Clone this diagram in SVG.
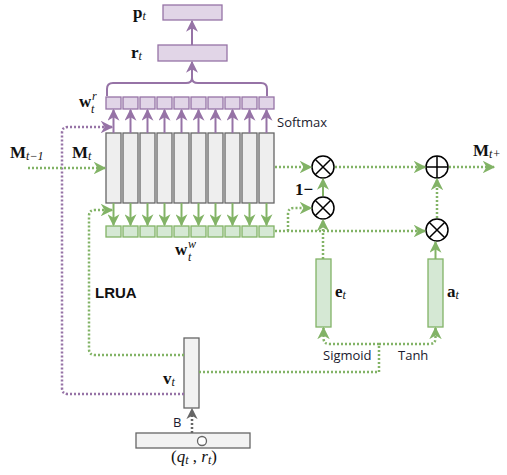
<svg xmlns="http://www.w3.org/2000/svg" width="507" height="475" viewBox="0 0 507 475">
<style>
.mem{fill:#eeeeee;stroke:#666666;stroke-width:1.3}
.rb{fill:#e1d5e7;stroke:#9673a6;stroke-width:1.3}
.wb{fill:#d5e8d4;stroke:#82b366;stroke-width:1.3}
.gray{fill:#f2f2f2;stroke:#666666;stroke-width:1.3}
.op{fill:#ffffff;stroke:#000000;stroke-width:1.5}
.pa{fill:none;stroke:#9673a6;stroke-width:2}
.ga{fill:none;stroke:#82b366;stroke-width:2}
.pd{fill:none;stroke:#9673a6;stroke-width:2.5;stroke-dasharray:2 2}
.gd{fill:none;stroke:#82b366;stroke-width:2.5;stroke-dasharray:2 2}
.kd{fill:none;stroke:#666666;stroke-width:2.5;stroke-dasharray:2 2}
.m{font-family:"Liberation Serif","DejaVu Serif",serif;font-weight:bold;font-size:17px;fill:#111}
.s{font-family:"Liberation Serif","DejaVu Serif",serif;font-style:italic;font-weight:normal;font-size:12px;fill:#111}
.t{font-family:"Open Sans","DejaVu Sans",sans-serif;font-size:13px;fill:#1a1a2e}
</style>
<defs>
<marker id="ap" viewBox="0 0 10 10" refX="9" refY="5" markerWidth="6" markerHeight="6" orient="auto" markerUnits="strokeWidth"><path d="M0,0 L10,5 L0,10 L3,5 z" fill="#9673a6"/></marker>
<marker id="ag" viewBox="0 0 10 10" refX="9" refY="5" markerWidth="6" markerHeight="6" orient="auto" markerUnits="strokeWidth"><path d="M0,0 L10,5 L0,10 L3,5 z" fill="#82b366"/></marker>
<marker id="agd" viewBox="0 0 10 10" refX="9" refY="5" markerWidth="5" markerHeight="5" orient="auto" markerUnits="strokeWidth"><path d="M0,0 L10,5 L0,10 L3,5 z" fill="#82b366"/></marker>
<marker id="apd" viewBox="0 0 10 10" refX="9" refY="5" markerWidth="5" markerHeight="5" orient="auto" markerUnits="strokeWidth"><path d="M0,0 L10,5 L0,10 L3,5 z" fill="#9673a6"/></marker>
<marker id="ak" viewBox="0 0 10 10" refX="9" refY="5" markerWidth="4.5" markerHeight="4.5" orient="auto" markerUnits="strokeWidth"><path d="M0,0 L10,5 L0,10 L3,5 z" fill="#666666"/></marker>
</defs>

<g id="p_t"><rect class="rb" x="163" y="5" width="59" height="15"/><text class="m" x="133" y="18">p<tspan class="s" dy="2">t</tspan></text></g>
<g id="r_t"><rect class="rb" x="158" y="45" width="69" height="16"/><text class="m" x="131" y="58">r<tspan class="s" dy="2">t</tspan></text></g>

<g id="w_r">
<rect class="rb" x="106" y="97" width="15" height="12"/><rect class="rb" x="123" y="97" width="15" height="12"/><rect class="rb" x="140" y="97" width="15" height="12"/><rect class="rb" x="157" y="97" width="15" height="12"/><rect class="rb" x="174" y="97" width="15" height="12"/><rect class="rb" x="191" y="97" width="15" height="12"/><rect class="rb" x="208" y="97" width="15" height="12"/><rect class="rb" x="225" y="97" width="15" height="12"/><rect class="rb" x="242" y="97" width="15" height="12"/><rect class="rb" x="259" y="97" width="15" height="12"/>
<text class="m" x="79" y="107">w</text><text class="s" x="92" y="100">r</text><text class="s" x="91" y="113">t</text>
<text class="t" x="277" y="127">Softmax</text>
</g>

<g id="memory">
<rect class="mem" x="106" y="133" width="15" height="70"/><rect class="mem" x="123" y="133" width="15" height="70"/><rect class="mem" x="140" y="133" width="15" height="70"/><rect class="mem" x="157" y="133" width="15" height="70"/><rect class="mem" x="174" y="133" width="15" height="70"/><rect class="mem" x="191" y="133" width="15" height="70"/><rect class="mem" x="208" y="133" width="15" height="70"/><rect class="mem" x="225" y="133" width="15" height="70"/><rect class="mem" x="242" y="133" width="15" height="70"/><rect class="mem" x="259" y="133" width="15" height="70"/>
<text class="m" x="10" y="158">M<tspan class="s" dy="2">t−1</tspan></text>
<text class="m" x="72" y="158">M<tspan class="s" dy="2">t</tspan></text>
</g>

<g id="w_w">
<rect class="wb" x="106" y="226" width="15" height="11"/><rect class="wb" x="123" y="226" width="15" height="11"/><rect class="wb" x="140" y="226" width="15" height="11"/><rect class="wb" x="157" y="226" width="15" height="11"/><rect class="wb" x="174" y="226" width="15" height="11"/><rect class="wb" x="191" y="226" width="15" height="11"/><rect class="wb" x="208" y="226" width="15" height="11"/><rect class="wb" x="225" y="226" width="15" height="11"/><rect class="wb" x="242" y="226" width="15" height="11"/><rect class="wb" x="259" y="226" width="15" height="11"/>
<text class="m" x="175" y="255">w</text><text class="s" x="188" y="248">w</text><text class="s" x="188" y="261">t</text>
</g>

<g id="mul1"><circle class="op" cx="323" cy="167" r="11"/><path d="M315.2,159.2 L330.8,174.8 M330.8,159.2 L315.2,174.8" stroke="#000" stroke-width="1.5"/></g>
<g id="mul2"><circle class="op" cx="323" cy="208" r="11"/><path d="M315.2,200.2 L330.8,215.8 M330.8,200.2 L315.2,215.8" stroke="#000" stroke-width="1.5"/><text class="m" x="295" y="195">1−</text></g>
<g id="add"><circle class="op" cx="437" cy="167" r="11"/><path d="M426,167 L448,167 M437,156 L437,178" stroke="#000" stroke-width="1.5"/><text class="m" x="473" y="156">M<tspan class="s" dy="2">t+</tspan></text></g>
<g id="mul3"><circle class="op" cx="437" cy="230" r="11"/><path d="M429.2,222.2 L444.8,237.8 M444.8,222.2 L429.2,237.8" stroke="#000" stroke-width="1.5"/></g>

<g id="e_t"><rect class="wb" x="316" y="259" width="15" height="68"/><text class="m" x="335" y="297">e<tspan class="s" dy="2">t</tspan></text><text class="t" x="323" y="360">Sigmoid</text></g>
<g id="a_t"><rect class="wb" x="428" y="259" width="15" height="68"/><text class="m" x="447" y="297">a<tspan class="s" dy="2">t</tspan></text><text class="t" x="398" y="360">Tanh</text></g>

<g id="v_t"><rect class="gray" x="184" y="338" width="15" height="70"/><text class="m" x="163" y="384">v<tspan class="s" dy="2">t</tspan></text></g>
<g id="input"><rect class="gray" x="136" y="433" width="114" height="15"/><circle cx="202" cy="441" r="4.5" fill="#fff" stroke="#666" stroke-width="1.3"/><text x="171" y="462" font-family="Liberation Serif, serif" font-size="17" fill="#111">(<tspan font-style="italic">q</tspan><tspan font-style="italic" font-size="12" dy="2">t</tspan><tspan dy="-2"> , </tspan><tspan font-style="italic">r</tspan><tspan font-style="italic" font-size="12" dy="2">t</tspan><tspan dy="-2">)</tspan></text></g>
<text x="95" y="298" font-family="Liberation Sans, Arial, sans-serif" font-weight="bold" font-size="15" fill="#111">LRUA</text>
<text class="t" x="173" y="427">B</text>

<g id="connectors">
<path class="pa" marker-end="url(#ap)" d="M113.5,133 V110"/><path class="pa" marker-end="url(#ap)" d="M130.5,133 V110"/><path class="pa" marker-end="url(#ap)" d="M147.5,133 V110"/><path class="pa" marker-end="url(#ap)" d="M164.5,133 V110"/><path class="pa" marker-end="url(#ap)" d="M181.5,133 V110"/><path class="pa" marker-end="url(#ap)" d="M198.5,133 V110"/><path class="pa" marker-end="url(#ap)" d="M215.5,133 V110"/><path class="pa" marker-end="url(#ap)" d="M232.5,133 V110"/><path class="pa" marker-end="url(#ap)" d="M249.5,133 V110"/><path class="pa" marker-end="url(#ap)" d="M266.5,133 V110"/>
<path class="ga" marker-end="url(#ag)" d="M113.5,203 V225"/><path class="ga" marker-end="url(#ag)" d="M130.5,203 V225"/><path class="ga" marker-end="url(#ag)" d="M147.5,203 V225"/><path class="ga" marker-end="url(#ag)" d="M164.5,203 V225"/><path class="ga" marker-end="url(#ag)" d="M181.5,203 V225"/><path class="ga" marker-end="url(#ag)" d="M198.5,203 V225"/><path class="ga" marker-end="url(#ag)" d="M215.5,203 V225"/><path class="ga" marker-end="url(#ag)" d="M232.5,203 V225"/><path class="ga" marker-end="url(#ag)" d="M249.5,203 V225"/><path class="ga" marker-end="url(#ag)" d="M266.5,203 V225"/>
<path class="pa" d="M107,96 V89 Q107,83 113,83 H186 Q192,83 192,78 Q192,83 198,83 H261 Q267,83 267,89 V96"/>
<path class="pa" marker-end="url(#ap)" d="M192,78 V62"/>
<path class="pa" marker-end="url(#ap)" d="M192,45 V21"/>
<path class="pd" marker-end="url(#apd)" d="M184,394 H68 Q62,394 62,388 V133 Q62,127 68,127 H112"/>
<path class="gd" marker-end="url(#agd)" d="M28,168 H105"/>
<path class="gd" marker-end="url(#agd)" d="M184,355 H95 Q89,355 89,349 V216 Q89,210 95,210 H112"/>
<path class="gd" marker-end="url(#agd)" d="M275,167 H311"/>
<path class="gd" marker-end="url(#agd)" d="M335,167 H425"/>
<path class="gd" marker-end="url(#agd)" d="M449,167 H494"/>
<path class="gd" marker-end="url(#agd)" d="M275,231 H425"/>
<path class="gd" marker-end="url(#agd)" d="M288,231 V214 Q288,208 294,208 H311"/>
<path class="ga" marker-end="url(#ag)" d="M323,196 V179"/>
<path class="gd" marker-end="url(#agd)" d="M323,259 V220"/>
<path class="ga" marker-end="url(#ag)" d="M435.5,259 V242"/>
<path class="gd" marker-end="url(#agd)" d="M437,218 V179"/>
<path class="gd" d="M199,372 H379 V344"/>
<path class="gd" marker-end="url(#agd)" d="M379,344 H329.5 Q323.5,344 323.5,338 V328"/>
<path class="gd" marker-end="url(#agd)" d="M379,344 H429.5 Q435.5,344 435.5,338 V328"/>
<path class="kd" marker-end="url(#ak)" d="M192,433 V409"/>
</g>
</svg>
